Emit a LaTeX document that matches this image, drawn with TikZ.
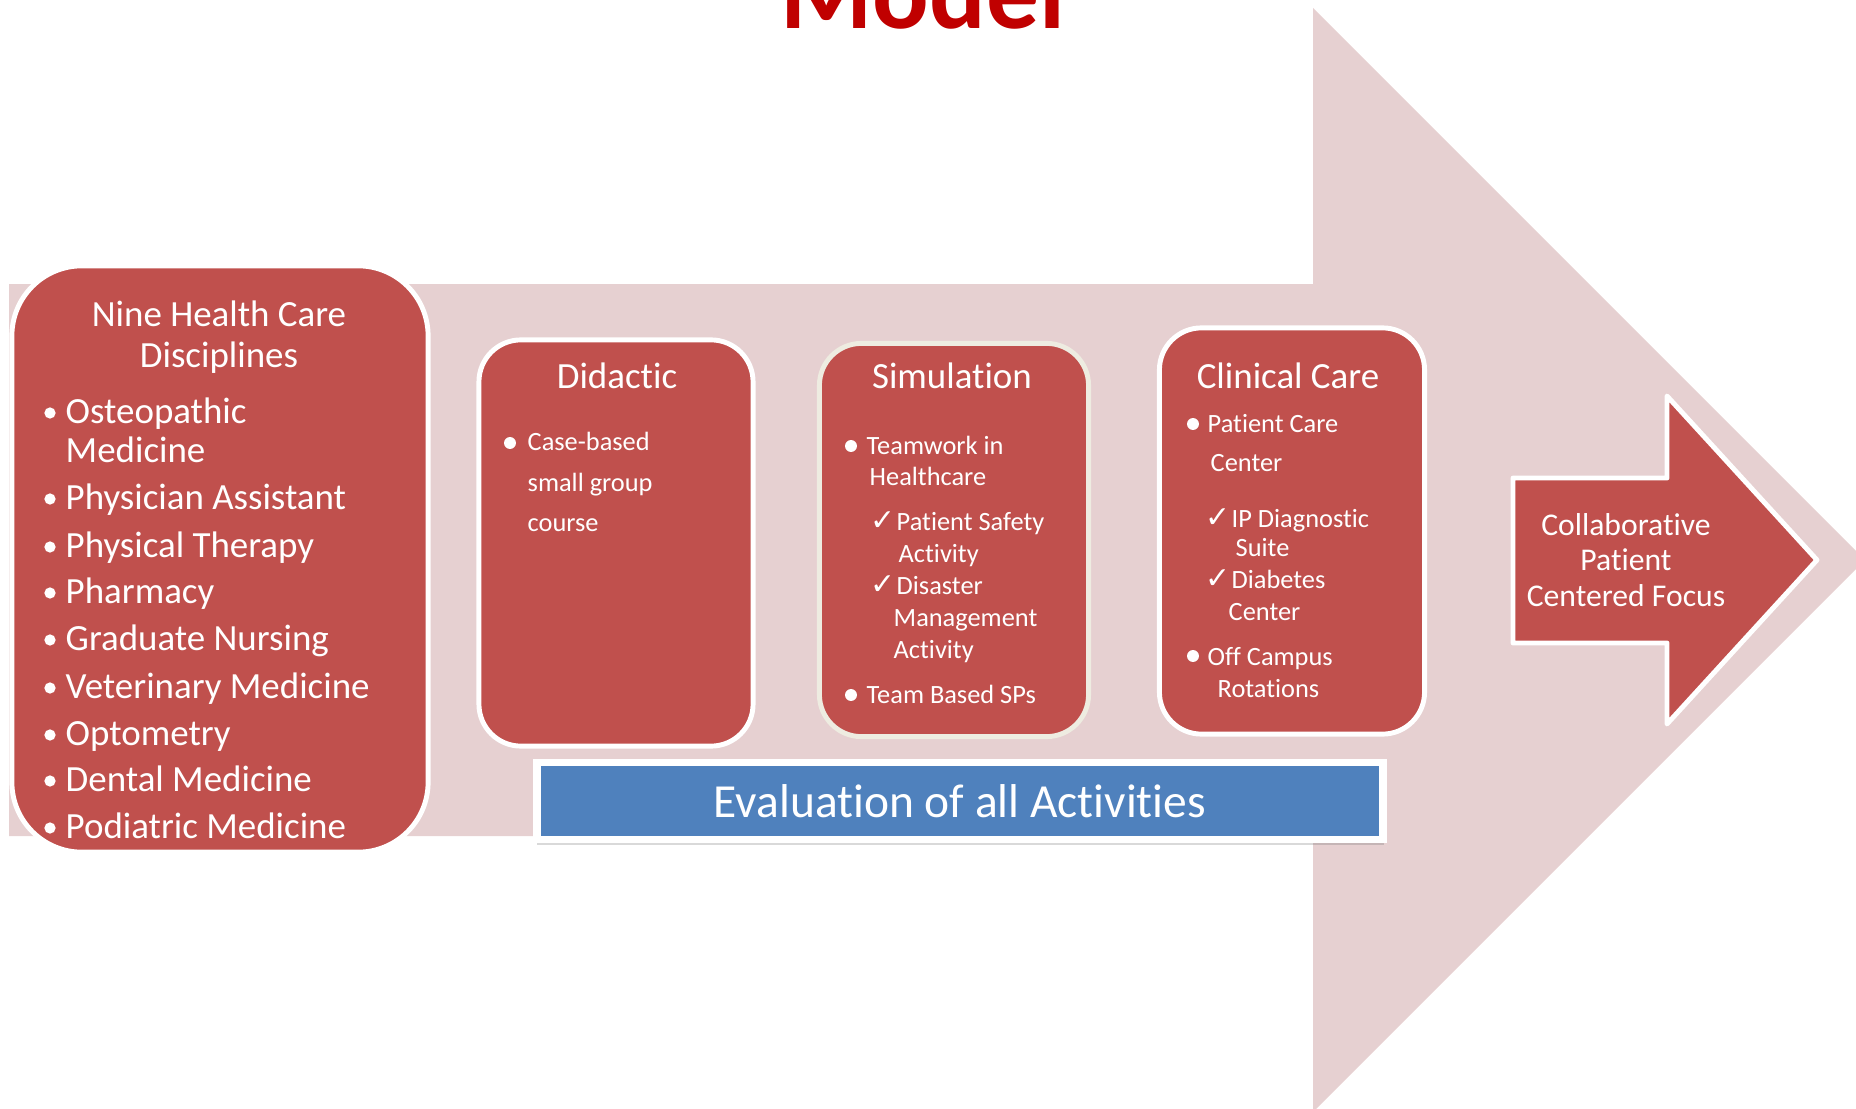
\documentclass[tikz,border=0pt]{standalone}
\usepackage{fontspec}
\setmainfont[Ligatures={NoCommon}]{Carlito}
\newfontfamily\checkfont{DejaVu Sans}
\usetikzlibrary{shadows}

\definecolor{boxred}{RGB}{192,80,77}
\definecolor{arrowpink}{RGB}{230,208,209}
\definecolor{evalblue}{RGB}{79,129,189}
\definecolor{titlered}{RGB}{192,0,0}
\definecolor{simborder}{RGB}{238,236,225}

\tikzset{
    phasebox/.style={draw=white, line width=1.4pt, fill=boxred, rounded corners=0.42cm, inner sep=0pt},
    phasetitle/.style={text=white, anchor=base, inner sep=0pt, font=\fontsize{10.5}{12.6}\selectfont},
    itemtext/.style={text=white, anchor=base west, inner sep=0pt, font=\fontsize{7.5}{9}\selectfont},
    bigitem/.style={itemtext, font=\fontsize{10.5}{12.6}\selectfont},
    checkmark/.style={text=white, anchor=base east, inner sep=0pt, font=\checkfont\fontsize{8.5}{10}\selectfont},
}

\begin{document}
\begin{tikzpicture}[x=0.01cm, y=-0.01cm]
    \useasboundingbox (0,0) rectangle (1856,1109);
    \clip (0,0) rectangle (1856,1109);

    \node[text=titlered, anchor=base, inner sep=0pt, font=\bfseries\fontsize{30}{36}\selectfont] (model) at (923,28) {Model};

    % big background arrow
    \fill[arrowpink] (9,284) -- (1313,284) -- (1313,8) -- (1865,560) -- (1313,1112) -- (1313,836) -- (9,836) -- cycle;

    \node[phasebox, rounded corners=0.7cm, minimum width=4.16cm, minimum height=5.86cm] (disciplines) at (220,559) {};
    \node[phasebox, minimum width=2.74cm, minimum height=4.06cm] (didactic) at (616,543) {};
    \node[phasebox, draw=simborder, minimum width=2.69cm, minimum height=3.93cm] (simulation) at (954,540) {};
    \node[phasebox, minimum width=2.65cm, minimum height=4.06cm] (clinical) at (1292,531) {};

    \node[draw=white, line width=2.2pt, fill=evalblue, minimum width=8.46cm, minimum height=0.77cm, inner sep=0pt,
          drop shadow={shadow xshift=0.2pt, shadow yshift=-1.5pt, opacity=0.25, fill=black!60},
          text=white, font=\fontsize{13.5}{16}\selectfont] (evaluation) at (960,801) {Evaluation of all Activities};

    \filldraw[fill=boxred, draw=white, line width=1.4pt, line join=round]
        (1513,478) -- (1667,478) -- (1667,396) -- (1817,560) -- (1667,724) -- (1667,643) -- (1513,643) -- cycle;
    \node[text=white, align=center, font=\fontsize{9}{10}\selectfont] (focus) at (1626,560) {Collaborative\\Patient\\Centered Focus};

    % disciplines
    \node[phasetitle] (disctitle) at (219,326) {Nine Health Care};
    \node[phasetitle] (disctitleb) at (219,367) {Disciplines};
    \foreach \y in {413,499,547,593,640,688,735,781,828}
        \fill[white] (50,\y) circle (1.6pt);
    \foreach \t/\y [count=\i] in {Osteopathic/423, Medicine/462, Physician Assistant/509, Physical Therapy/557,
        Pharmacy/603, Graduate Nursing/650, Veterinary Medicine/698, Optometry/745, Dental Medicine/791, Podiatric Medicine/838}
        \node[bigitem] (disc\i) at (65,\y) {\t};

    % didactic
    \node[phasetitle] (didactictitle) at (617,388) {Didactic};
    \fill[white] (510,443) circle (1.7pt);
    \node[itemtext] (did1) at (527,450) {Case-based};
    \node[itemtext] (did2) at (527,491) {small group};
    \node[itemtext] (did3) at (527,531) {course};

    % simulation
    \node[phasetitle] (simtitle) at (952,388) {Simulation};
    \fill[white] (851,446) circle (1.7pt);
    \fill[white] (851,695) circle (1.7pt);
    \node[itemtext] (sim1) at (866,454) {Teamwork in};
    \node[itemtext] (sim2) at (869,485) {Healthcare};
    \node[checkmark] (simcheck1) at (896,530) {✓};
    \node[itemtext] (sim3) at (896,530) {Patient Safety};
    \node[itemtext] (sim4) at (898,562) {Activity};
    \node[checkmark] (simcheck2) at (896,594) {✓};
    \node[itemtext] (sim5) at (896,594) {Disaster};
    \node[itemtext] (sim6) at (893,626) {Management};
    \node[itemtext] (sim7) at (893,658) {Activity};
    \node[itemtext] (sim8) at (866,703) {Team Based SPs};

    % clinical care
    \node[phasetitle] (clintitle) at (1288,388) {Clinical Care};
    \fill[white] (1193,424) circle (1.7pt);
    \fill[white] (1193,656) circle (1.7pt);
    \node[itemtext] (clin1) at (1207,432) {Patient Care};
    \node[itemtext] (clin2) at (1210,471) {Center};
    \node[checkmark] (clincheck1) at (1231,527) {✓};
    \node[itemtext] (clin3) at (1231,527) {IP Diagnostic};
    \node[itemtext] (clin4) at (1235,556) {Suite};
    \node[checkmark] (clincheck2) at (1231,588) {✓};
    \node[itemtext] (clin5) at (1231,588) {Diabetes};
    \node[itemtext] (clin6) at (1228,620) {Center};
    \node[itemtext] (clin7) at (1207,665) {Off Campus};
    \node[itemtext] (clin8) at (1217,697) {Rotations};

\end{tikzpicture}
\end{document}
